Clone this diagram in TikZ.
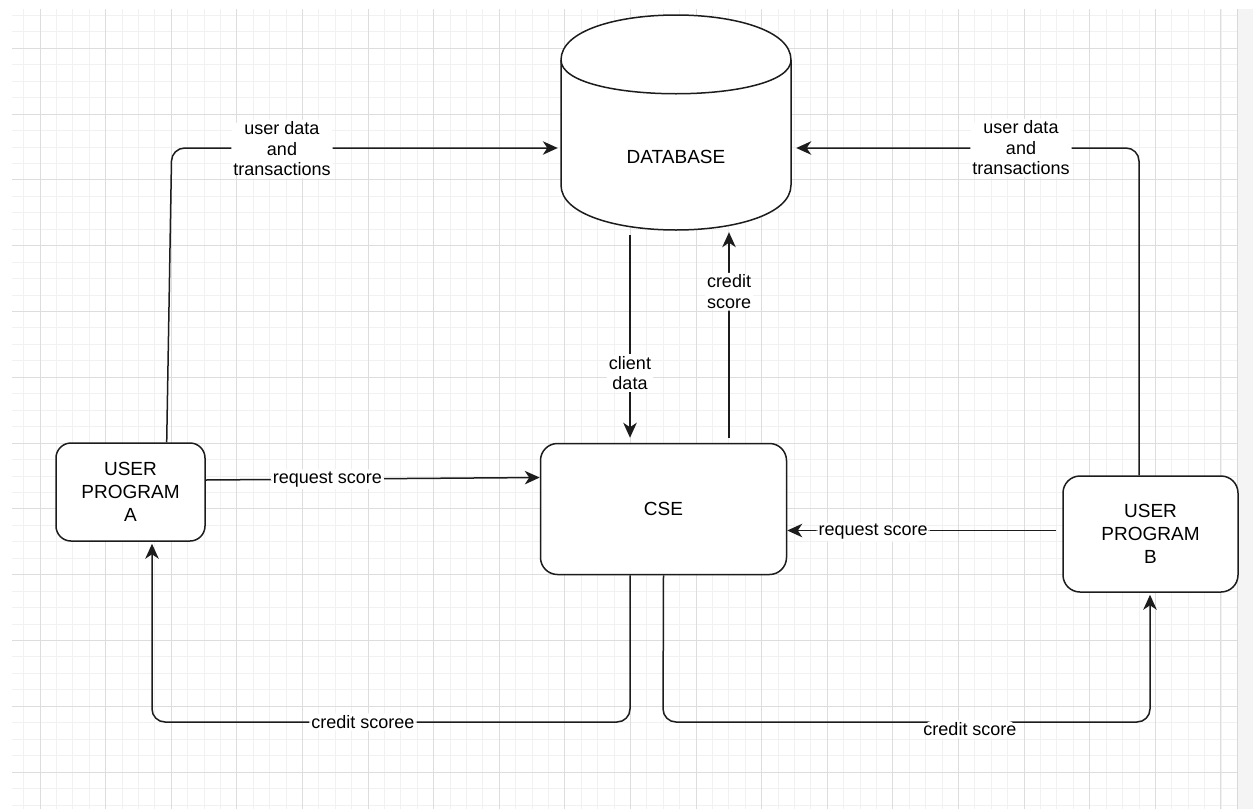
\documentclass[tikz,border=0pt]{standalone}
\usepackage{fontspec}
\setmainfont{Liberation Sans}
\usetikzlibrary{arrows.meta}
\definecolor{gridminor}{HTML}{F1F1F1}
\definecolor{gridmajor}{HTML}{DDDDDD}
\definecolor{ink}{HTML}{1C1C1C}
\definecolor{sidestrip}{HTML}{F4F4F4}

\begin{document}
\begin{tikzpicture}[x=1pt,y=-1pt,
  box/.style={draw=ink, line width=1.5pt, fill=white, align=center,
    font=\fontsize{19pt}{23pt}\selectfont, inner sep=0pt},
  conn/.style={draw=ink, line width=1.5pt, rounded corners=13pt,
    -{Stealth[length=15pt,width=13.5pt,inset=4.5pt]}},
  lbl/.style={fill=white, align=center, text=black,
    font=\fontsize{18pt}{20.5pt}\selectfont, inner sep=2pt},
  dbline/.style={draw=ink, line width=1.5pt}
]
\useasboundingbox (0,0) rectangle (1253,809);
\fill[white] (0,0) rectangle (1253,809);

% drawing canvas grid
\begin{scope}
  \clip (12,9) rectangle (1237,809);
  \foreach \k in {-1,...,72}
    \draw[gridminor, line width=1pt] ({40+(\k)*16.403},9) -- ({40+(\k)*16.403},809);
  \foreach \k in {-2,...,46}
    \draw[gridminor, line width=1pt] (12,{48.3+(\k)*16.45}) -- (1237,{48.3+(\k)*16.45});
  \foreach \k in {0,...,18}
    \draw[gridmajor, line width=1pt] ({40+(\k)*65.61},9) -- ({40+(\k)*65.61},809);
  \foreach \k in {0,...,11}
    \draw[gridmajor, line width=1pt] (12,{48.3+(\k)*65.8}) -- (1237,{48.3+(\k)*65.8});
\end{scope}
\fill[sidestrip] (1237,9) rectangle (1253,809);
\draw[gray!30, line width=1pt] (1237.5,9) -- (1237.5,809);

% database cylinder
\node[minimum width=230pt, minimum height=215pt, inner sep=0pt] (db) at (676,122.5) {};
\draw[dbline, fill=white] (561,60) .. controls (561,0) and (791,0) .. (791,60)
  -- (791,185) .. controls (791,245) and (561,245) .. (561,185) -- cycle;
\draw[dbline] (561,60) .. controls (561,105) and (791,105) .. (791,60);
\node[font=\fontsize{19pt}{23pt}\selectfont] (dbtext) at (676,157) {DATABASE};

% process boxes
\node[box, rounded corners=15pt, minimum width=149pt, minimum height=98pt]
  (pa) at (130.5,492) {USER\\PROGRAM\\A};
\node[box, rounded corners=17pt, minimum width=175pt, minimum height=116pt]
  (pb) at (1150.5,534) {USER\\PROGRAM\\B};
\node[box, rounded corners=17pt, minimum width=246pt, minimum height=131pt]
  (cse) at (663.5,509) {CSE};

% user programs store data in the database
\draw[conn] ([xshift=36.2pt]pa.north) -- (171.7,148) -- ([xshift=-3pt,yshift=-25.5pt]db.west)
  node[lbl] at (282,149) {user data\\and\\transactions};
\draw[conn] ([xshift=-11.5pt]pb.north) -- (1139,148) -- ([xshift=5pt,yshift=-25.5pt]db.east)
  node[lbl] at (1021,148) {user data\\and\\transactions};

% database <-> scoring engine
\draw[conn] ([xshift=-46pt,yshift=-5pt]db.south) -- node[lbl, pos=0.68] {client\\data}
  ([xshift=-33.5pt,yshift=5pt]cse.north);
\draw[conn] ([xshift=65.5pt,yshift=5pt]cse.north) -- node[lbl, pos=0.71] {credit\\score}
  ([xshift=53pt,yshift=-2pt]db.south);

% score requests
\draw[conn] ([yshift=12pt]pa.east) -- node[lbl, pos=0.364] {request score}
  ([yshift=31.5pt]cse.west);
\draw[conn] ([xshift=-6pt,yshift=3.5pt]pb.west) -- node[lbl, pos=0.681, yshift=-1.5pt] {request score}
  ([yshift=-21.5pt]cse.east);

% scores returned to the user programs
\draw[conn] ([xshift=-33.5pt]cse.south) -- (630,722) -- (152,722)
  -- ([xshift=21.5pt,yshift=-2pt]pa.south)
  node[lbl] at (363,722) {credit scoree};
\draw[conn] (cse.south) -- (663,722) -- (1150,722)
  -- ([xshift=-0.5pt,yshift=-2pt]pb.south)
  node[lbl] at (970,729) {credit score};
\end{tikzpicture}
\end{document}
